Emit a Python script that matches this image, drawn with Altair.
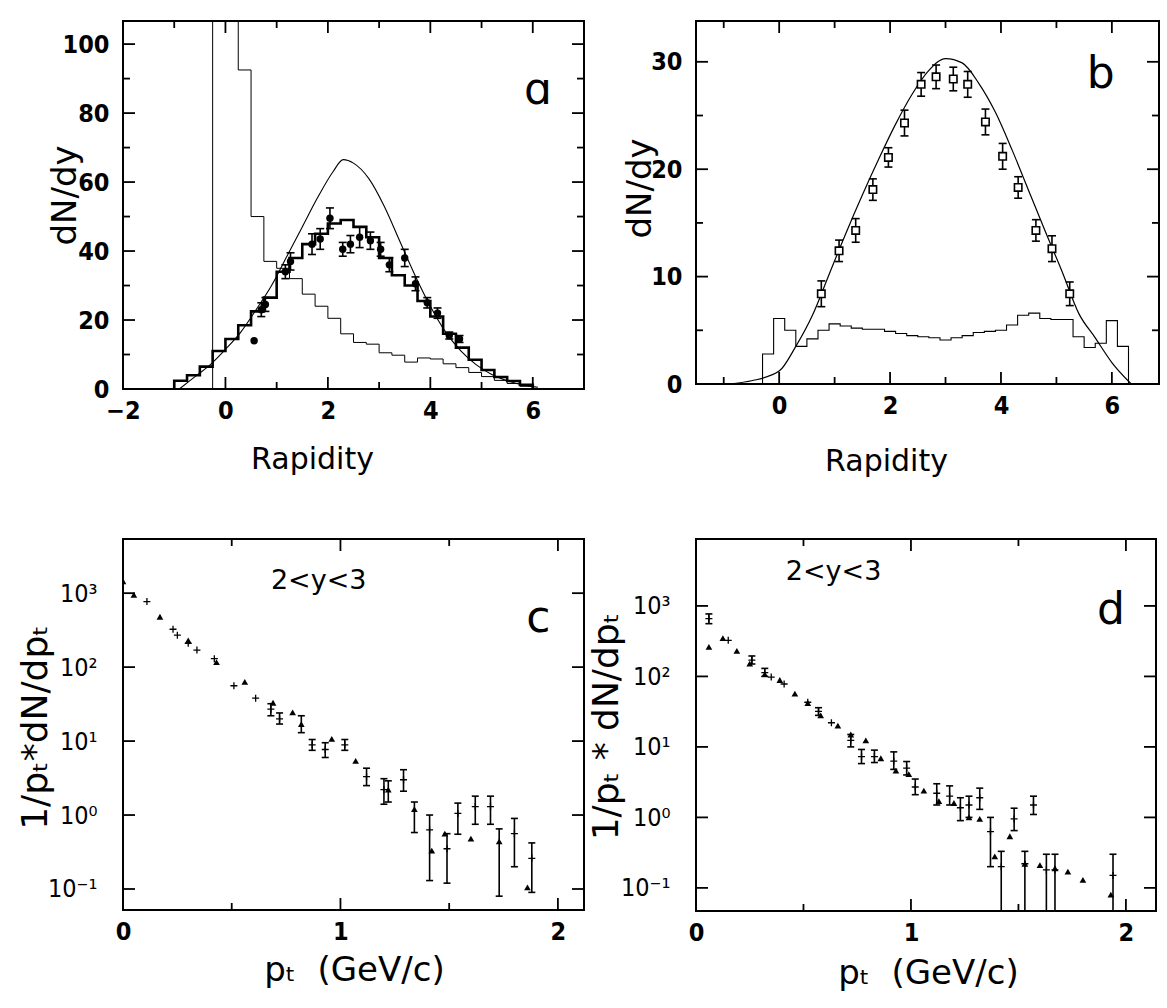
import altair as alt
import numpy as np
import pandas as pd

# ---------------- panel a : rapidity, dN/dy ----------------
a_thick_edges = list(np.round(np.arange(-1.0, 6.001, 0.25), 2))
a_thick_vals = [2.4, 4.0, 6.5, 11, 14.5, 18.5, 22.5, 26.5, 34, 38, 42, 45, 48, 49,
                47, 44, 38, 33, 30, 25.5, 21, 16, 12, 8.5, 5.5, 3.5, 2.3, 1.2]
a_thin_edges = list(np.round(np.arange(-0.25, 6.001, 0.25), 2))
a_thin_vals = [150, 130, 92.5, 50, 37, 35, 32, 27.5, 24, 20.5, 16, 13.5, 13, 10.5,
               9.8, 7.8, 9.0, 8.7, 7.3, 6.2, 4.8, 3.6, 2.5, 1.6, 0.8]
a_curve_x = [-0.9, -0.6, -0.3, 0.0, 0.3, 0.6, 0.9, 1.2, 1.5, 1.8, 2.1, 2.3, 2.5,
             2.8, 3.1, 3.4, 3.7, 4.0, 4.3, 4.6, 4.9, 5.2, 5.5, 5.8, 6.1]
a_curve_y = [0, 3.5, 7, 11.5, 16.5, 23, 30, 38.5, 47, 55.5, 63, 66.5, 65.5, 61,
             53, 43, 33, 24, 16.5, 11, 7, 4.2, 2.4, 1.2, 0.5]
a_pts_x = [0.56, 0.70, 0.78, 1.17, 1.27, 1.69, 1.85, 2.04, 2.29, 2.44, 2.62, 2.83,
           3.03, 3.20, 3.50, 3.71, 3.94, 4.14, 4.37, 4.57]
a_pts_y = [14, 23, 24.5, 34, 37, 42, 43.5, 49.5, 40.5, 42, 44, 43, 40.5, 36, 38,
           30.5, 25, 22, 15.5, 14.5]
a_pts_err = [0, 2, 2, 2, 2.5, 3, 3, 3, 2, 2.5, 3, 2.5, 2, 2, 2.5, 2, 1.5, 1.5, 1, 1]

# ---------------- panel b ----------------
b_hist_edges = list(np.round(np.arange(-0.3, 6.301, 0.2), 2))
b_hist_vals = [2.8, 6.1, 5.0, 3.5, 4.2, 5.0, 5.6, 5.4, 5.2, 5.1, 5.1, 4.9, 4.7, 4.5,
               4.4, 4.3, 4.1, 4.3, 4.5, 4.8, 4.9, 5.0, 5.5, 6.4, 6.6, 6.1, 6.0, 6.0,
               4.4, 3.4, 3.8, 5.9, 3.5]
b_curve_x = [-0.9, -0.5, 0.0, 0.3, 0.6, 0.9, 1.2, 1.5, 1.8, 2.1, 2.4, 2.7, 3.0,
             3.3, 3.6, 3.9, 4.2, 4.5, 4.8, 5.1, 5.4, 5.7, 6.0, 6.35]
b_curve_y = [0, 0.3, 1.2, 3.5, 6.4, 10.2, 14.0, 17.6, 21.0, 24.2, 27.0, 29.2, 30.3,
             29.9, 28.0, 25.3, 21.8, 18.0, 14.2, 10.5, 6.6, 4.3, 2.0, 0]
b_pts_x = [0.76, 1.08, 1.38, 1.69, 1.97, 2.26, 2.56, 2.83, 3.14, 3.40, 3.72, 4.03,
           4.31, 4.63, 4.92, 5.24]
b_pts_y = [8.4, 12.4, 14.3, 18.1, 21.1, 24.3, 27.9, 28.6, 28.4, 27.9, 24.4, 21.2,
           18.3, 14.3, 12.6, 8.4]
b_pts_err = [1.2, 1.0, 1.1, 1.0, 0.9, 1.2, 1.1, 1.1, 1.1, 1.2, 1.2, 1.2, 1.0, 1.0,
             1.2, 1.1]

# ---------------- panel c : pt spectra ----------------
c_cross_x = [0.11, 0.23, 0.25, 0.30, 0.34, 0.42, 0.51, 0.61, 0.68, 0.72, 0.87, 0.93,
             1.02, 1.12, 1.20, 1.29, 1.41, 1.49, 1.54, 1.62, 1.69, 1.80, 1.88]
c_cross_y = [770, 325, 270, 210, 170, 130, 56, 38, 27, 20, 8.9, 7.7, 8.9, 3.3, 2.2,
             3.0, 0.63, 0.35, 1.05, 1.3, 1.3, 0.56, 0.26]
c_cross_lo = [770, 325, 270, 210, 170, 130, 56, 38, 22, 17, 7.5, 6.0, 7.5, 2.5, 1.4,
              2.1, 0.13, 0.12, 0.55, 0.75, 0.75, 0.2, 0.09]
c_cross_hi = [770, 325, 270, 210, 170, 130, 56, 38, 32, 24, 10.5, 9.5, 10.5, 4.3,
              3.1, 4.1, 1.0, 0.56, 1.45, 1.8, 1.8, 0.9, 0.42]
c_tri_x = [0.0, 0.05, 0.17, 0.30, 0.43, 0.56, 0.69, 0.78, 0.82, 0.96, 1.07, 1.22,
           1.34, 1.42, 1.48, 1.60, 1.73, 1.86]
c_tri_y = [1450, 950, 480, 230, 117, 63, 33, 24.5, 17, 10.7, 5.4, 2.2, 1.2, 0.33,
           0.56, 0.48, 0.44, 0.105]
c_tri_lo = [1450, 950, 480, 230, 117, 63, 33, 24.5, 13, 10.7, 5.4, 1.5, 0.58, 0.33,
            0.56, 0.48, 0.08, 0.105]
c_tri_hi = [1450, 950, 480, 230, 117, 63, 33, 24.5, 22, 10.7, 5.4, 2.9, 1.5, 0.33,
            0.56, 0.48, 0.65, 0.105]

# ---------------- panel d ----------------
d_cross_x = [0.06, 0.15, 0.26, 0.32, 0.35, 0.41, 0.52, 0.57, 0.63, 0.72, 0.77, 0.83,
             0.92, 0.98, 1.02, 1.12, 1.18, 1.23, 1.27, 1.32, 1.37, 1.42, 1.48, 1.53,
             1.57, 1.63, 1.67, 1.94]
d_cross_y = [660, 325, 170, 113, 98, 78, 43, 32, 22, 12.4, 7.3, 7.3, 6.3, 5.0, 2.7,
             2.2, 2.0, 1.37, 1.5, 1.9, 0.63, 0.2, 0.95, 0.22, 1.5, 0.18, 0.18, 0.15]
d_cross_lo = [560, 325, 150, 100, 98, 78, 43, 28, 22, 10, 5.8, 6.0, 4.8, 4.0, 2.1,
              1.5, 1.5, 0.9, 1.0, 1.3, 0.2, 0.03, 0.65, 0.03, 1.1, 0.03, 0.03, 0.04]
d_cross_hi = [770, 325, 195, 130, 98, 78, 43, 36, 22, 15, 9.2, 9.0, 8.5, 6.2, 3.5,
              3.0, 2.8, 1.9, 2.0, 2.6, 1.0, 0.33, 1.35, 0.33, 2.0, 0.3, 0.3, 0.3]
d_tri_x = [0.06, 0.125, 0.19, 0.25, 0.32, 0.39, 0.46, 0.52, 0.58, 0.66, 0.72, 0.79,
           0.86, 0.93, 0.99, 1.06, 1.13, 1.20, 1.27, 1.32, 1.39, 1.46, 1.53, 1.60,
           1.67, 1.73, 1.80, 1.93]
d_tri_y = [262, 350, 230, 152, 108, 89, 57, 42, 28, 20, 15, 12.4, 6.9, 4.6, 4.1, 2.4,
           1.7, 1.6, 1.0, 0.95, 0.28, 0.54, 0.22, 0.21, 0.19, 0.17, 0.13, 0.08]

# ---------------- annotations ----------------
a_label = {"x": [6.1], "y": [86.5], "t": ["ɑ"]}
b_label = {"x": [5.8], "y": [28.8], "t": ["b"]}
c_label = {"x": [1.91, 0.90], "y": [450, 1450], "t": ["c", "2<y<3"]}
d_label = {"x": [1.93, 0.64], "y": [860, 3000], "t": ["d", "2<y<3"]}

FONT_LAB = "Liberation Sans Narrow, DejaVu Sans Condensed, Roboto Condensed, Liberation Sans, sans-serif"
FONT_TIT = "DejaVu Sans, Noto Sans, sans-serif"


def step_df(edges, vals):
    xs, ys = [edges[0]], [0.0]
    for i, v in enumerate(vals):
        xs += [edges[i], edges[i + 1]]
        ys += [v, v]
    xs.append(edges[-1])
    ys.append(0.0)
    return pd.DataFrame({"x": xs, "y": ys, "o": list(range(len(xs)))})


class P:
    """holds the scales and axes of one panel; every layer uses the same ones"""

    def __init__(self, xs, ys, ax, ay, W, H):
        self.xs, self.ys, self.ax, self.ay, self.W, self.H = xs, ys, ax, ay, W, H

    def X(self, f):
        return alt.X(f, scale=self.xs, axis=self.ax)

    def Y(self, f):
        return alt.Y(f, scale=self.ys, axis=self.ay)


def inward_ticks(p, xmaj, xmin, ymaj, ymin):
    layers = []
    for vals, L in ((xmaj, 12), (xmin, 7)):
        if not vals:
            continue
        base = alt.Chart(pd.DataFrame({"v": vals})).mark_rule(color="black", strokeWidth=1.8)
        layers.append(base.encode(x=p.X("v:Q"), y=alt.value(p.H), y2=alt.value(p.H - L)))
        layers.append(base.encode(x=p.X("v:Q"), y=alt.value(0), y2=alt.value(L)))
    for vals, L in ((ymaj, 12), (ymin, 7)):
        if not vals:
            continue
        base = alt.Chart(pd.DataFrame({"v": vals})).mark_rule(color="black", strokeWidth=1.8)
        layers.append(base.encode(y=p.Y("v:Q"), x=alt.value(0), x2=alt.value(L)))
        layers.append(base.encode(y=p.Y("v:Q"), x=alt.value(p.W), x2=alt.value(p.W - L)))
    return layers


def err_layers(p, x, y, lo, hi, cap=8):
    df = pd.DataFrame({"x": x, "y": y, "lo": lo, "hi": hi})
    df = df[df["lo"] < df["hi"]]
    rule = alt.Chart(df).mark_rule(color="black", strokeWidth=1.6, clip=True).encode(
        x=p.X("x:Q"), y=p.Y("lo:Q"), y2="hi:Q")
    capdf = pd.concat([df[["x", "lo"]].rename(columns={"lo": "v"}),
                       df[["x", "hi"]].rename(columns={"hi": "v"})])
    caps = alt.Chart(capdf).mark_point(shape="M-1,0L1,0", size=cap * cap, color="black",
                                       strokeWidth=1.6, opacity=1, clip=True).encode(
        x=p.X("x:Q"), y=p.Y("v:Q"))
    return [rule, caps]


def xaxis(values, title, tx, ty, tsize, expr):
    return alt.Axis(values=values, title=title, labelFont=FONT_LAB, labelFontSize=25,
                    labelFontWeight="bold", labelPadding=9, labelColor="black",
                    labelFlush=False, labelOverlap=False, labelBound=False,
                    labelSeparation=0, labelExpr=expr,
                    titleFont=FONT_TIT, titleFontSize=tsize, titleFontWeight="normal",
                    titleColor="black", titleX=tx, titleY=ty, titleBaseline="middle",
                    titleAlign="center", ticks=False, domain=False, grid=False)


def yaxis(values, title, tx, ty, pad, expr, tsize, size=25, weight="bold"):
    return alt.Axis(values=values, title=title, labelFont=FONT_LAB, labelFontSize=size,
                    labelFontWeight=weight, labelPadding=pad, labelColor="black",
                    labelFlush=False, labelOverlap=False, labelBound=False,
                    labelSeparation=0, labelExpr=expr,
                    titleFont=FONT_TIT, titleFontSize=tsize, titleFontWeight="normal",
                    titleColor="black", titleX=tx, titleY=ty, titleBaseline="middle",
                    titleAlign="center", titleAngle=270, ticks=False, domain=False, grid=False)


INT_EXPR = "replace(format(datum.value, 'd'), '-', '\u2212')"


def text_layer(p, d, size):
    return alt.Chart(pd.DataFrame(d)).mark_text(font=FONT_TIT, fontSize=size, color="black",
                                                align="center", baseline="middle").encode(
        x=p.X("x:Q"), y=p.Y("y:Q"), text="t:N")


# ================= panel a =================
pA = P(alt.Scale(domain=[-2, 7], nice=False, zero=False),
       alt.Scale(domain=[0, 106.7], nice=False, zero=False),
       xaxis([-2, 0, 2, 4, 6], "Rapidity", 189, 70, 30, INT_EXPR),
       yaxis([0, 20, 40, 60, 80, 100], "dN/dy", -58, 174, 14, INT_EXPR, 34), 461, 368)
thick_a = alt.Chart(step_df(a_thick_edges, a_thick_vals)).mark_line(
    color="black", strokeWidth=2.6, clip=True).encode(x=pA.X("x:Q"), y=pA.Y("y:Q"), order="o:Q")
thin_a = alt.Chart(step_df(a_thin_edges, a_thin_vals)).mark_line(
    color="black", strokeWidth=1.0, clip=True).encode(x=pA.X("x:Q"), y=pA.Y("y:Q"), order="o:Q")
curve_a = alt.Chart(pd.DataFrame({"x": a_curve_x, "y": a_curve_y})).mark_line(
    color="black", strokeWidth=1.1, interpolate="monotone", clip=True).encode(
    x=pA.X("x:Q"), y=pA.Y("y:Q"))
pts_a = alt.Chart(pd.DataFrame({"x": a_pts_x, "y": a_pts_y})).mark_point(
    shape="circle", filled=True, size=55, color="black", opacity=1).encode(
    x=pA.X("x:Q"), y=pA.Y("y:Q"))
err_a = err_layers(pA, a_pts_x, a_pts_y, [y - e for y, e in zip(a_pts_y, a_pts_err)],
                   [y + e for y, e in zip(a_pts_y, a_pts_err)])
ticks_a = inward_ticks(pA, [-2, 0, 2, 4, 6], [-1, 1, 3, 5], [0, 20, 40, 60, 80, 100],
                       [10, 30, 50, 70, 90])
panel_a = alt.layer(thick_a, thin_a, curve_a, *err_a, pts_a, *ticks_a,
                    text_layer(pA, a_label, 44)).properties(width=pA.W, height=pA.H)

# ================= panel b =================
pB = P(alt.Scale(domain=[-1.5, 6.85], nice=False, zero=False),
       alt.Scale(domain=[0, 33.8], nice=False, zero=False),
       xaxis([0, 2, 4, 6], "Rapidity", 190, 77, 30, INT_EXPR),
       yaxis([0, 10, 20, 30], "dN/dy", -56, 167, 14, INT_EXPR, 34), 463, 363)
hist_b = alt.Chart(step_df(b_hist_edges, b_hist_vals)).mark_line(
    color="black", strokeWidth=1.1, clip=True).encode(x=pB.X("x:Q"), y=pB.Y("y:Q"), order="o:Q")
curve_b = alt.Chart(pd.DataFrame({"x": b_curve_x, "y": b_curve_y})).mark_line(
    color="black", strokeWidth=1.2, interpolate="monotone", clip=True).encode(
    x=pB.X("x:Q"), y=pB.Y("y:Q"))
err_b = err_layers(pB, b_pts_x, b_pts_y, [y - e for y, e in zip(b_pts_y, b_pts_err)],
                   [y + e for y, e in zip(b_pts_y, b_pts_err)])
pts_b = alt.Chart(pd.DataFrame({"x": b_pts_x, "y": b_pts_y})).mark_point(
    shape="square", filled=True, fill="white", stroke="black", size=55, strokeWidth=1.6,
    opacity=1).encode(x=pB.X("x:Q"), y=pB.Y("y:Q"))
ticks_b = inward_ticks(pB, [0, 2, 4, 6], [-1, 1, 3, 5], [0, 10, 20, 30], [5, 15, 25])
panel_b = alt.layer(hist_b, curve_b, *err_b, pts_b, *ticks_b,
                    text_layer(pB, b_label, 44)).properties(width=pB.W, height=pB.H)

# ================= panels c, d =================
LOG_EXPR = ("datum.value >= 999 ? '10³' : datum.value >= 99 ? '10²' : datum.value >= 9 ? "
            "'10¹' : datum.value >= 0.9 ? '10⁰' : '10⁻¹'")
CROSS = "M-1,0L1,0M0,-1L0,1"
PT_TITLE = "pₜ\u00a0\u00a0(GeV/c)"


def pt_panel(cx, cy, clo, chi, tx, ty, tlo, thi, labels, W, H, xdom, ydom, ytitle,
             ytx, yty, xtx, xty):
    p = P(alt.Scale(domain=xdom, nice=False, zero=False),
          alt.Scale(type="log", domain=ydom, nice=False),
          xaxis([0, 1, 2], PT_TITLE, xtx, xty, 34, INT_EXPR),
          yaxis([0.1, 1, 10, 100, 1000], ytitle, ytx, yty, 26, LOG_EXPR, 36, 25, "normal"),
          W, H)
    crosses = alt.Chart(pd.DataFrame({"x": cx, "y": cy})).mark_point(
        shape=CROSS, size=49, color="black", strokeWidth=1.3, opacity=1, clip=True).encode(
        x=p.X("x:Q"), y=p.Y("y:Q"))
    tris = alt.Chart(pd.DataFrame({"x": tx, "y": ty})).mark_point(
        shape="triangle-up", filled=True, size=45, color="black", opacity=1, clip=True).encode(
        x=p.X("x:Q"), y=p.Y("y:Q"))
    layers = [crosses] + err_layers(p, cx, cy, clo, chi, 7)
    if tlo is not None:
        layers += err_layers(p, tx, ty, tlo, thi, 7)
    layers.append(tris)
    layers += inward_ticks(p, [1, 2], [0.5, 1.5], [0.1, 1, 10, 100, 1000], [])
    t1 = alt.Chart(pd.DataFrame({k: v[:1] for k, v in labels.items()})).mark_text(
        font=FONT_TIT, fontSize=44, color="black").encode(x=p.X("x:Q"), y=p.Y("y:Q"), text="t:N")
    t2 = alt.Chart(pd.DataFrame({k: v[1:] for k, v in labels.items()})).mark_text(
        font=FONT_TIT, fontSize=27, color="black").encode(x=p.X("x:Q"), y=p.Y("y:Q"), text="t:N")
    layers += [t1, t2]
    return alt.layer(*layers).properties(width=W, height=H)


panel_c = pt_panel(c_cross_x, c_cross_y, c_cross_lo, c_cross_hi, c_tri_x, c_tri_y,
                   c_tri_lo, c_tri_hi, c_label, 461, 371, [0, 2.12], [0.052, 5400],
                   "1/pₜ*dN/dpₜ", -88, 188, 231, 60)
panel_d = pt_panel(d_cross_x, d_cross_y, d_cross_lo, d_cross_hi, d_tri_x, d_tri_y,
                   None, None, d_label, 460, 372, [0, 2.14], [0.047, 8900],
                   "1/pₜ * dN/dpₜ", -90, 187, 232, 62)

chart = alt.concat(panel_a, panel_b, panel_c, panel_d, columns=2,
                   spacing={"row": 150, "column": 112}, bounds="flush").properties(
    padding={"left": 16, "top": 19, "right": 5, "bottom": 5},
    background="white"
).configure_view(stroke="black", strokeWidth=2).configure_axis(
    grid=False, domain=False, ticks=False, labelOverlap=False)

chart.save("out.html", embed_options={"renderer": "svg", "actions": False})
